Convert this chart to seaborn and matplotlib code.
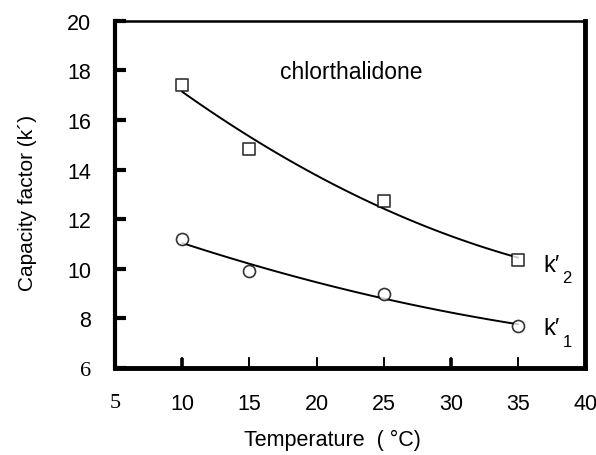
import matplotlib
matplotlib.use("Agg")
import matplotlib.pyplot as plt
import seaborn as sns
import numpy as np
import pandas as pd

temperature = [10, 15, 25, 35]
k2_values = [17.4, 14.85, 12.75, 10.35]
k1_values = [11.2, 9.9, 9.0, 7.7]
x_ticks = [5, 10, 15, 20, 25, 30, 35, 40]
y_ticks = [6, 8, 10, 12, 14, 16, 18, 20]

sns.set_theme(style="white")
plt.rcParams['font.family'] = ['Liberation Sans', 'DejaVu Sans']
plt.rcParams['xtick.bottom'] = True
plt.rcParams['ytick.left'] = True

df = pd.DataFrame({"T": temperature, "k2": k2_values, "k1": k1_values})

fig = plt.figure(figsize=(5.96, 4.56), dpi=100)
ax = fig.add_axes([0.193, 0.191, 0.789, 0.761])

for col, mk in [("k2", "s"), ("k1", "o")]:
    sns.regplot(data=df, x="T", y=col, order=2, ci=None, ax=ax, marker=mk,
                scatter_kws=dict(s=75, facecolors="white",
                                 edgecolors="black", linewidths=1.2, zorder=3),
                line_kws=dict(color="black", lw=1.4, zorder=2))

ax.set_xlim(5, 40)
ax.set_ylim(6, 20)
ax.set_xticks(x_ticks)
ax.set_yticks(y_ticks)
ax.set_xticklabels([str(v) for v in x_ticks], fontsize=15.5)
ax.set_yticklabels([str(v) for v in y_ticks], fontsize=15.5)
for lab in ax.get_yticklabels():
    if lab.get_text() == "6":
        lab.set_family("Liberation Serif")
        lab.set_fontsize(16)
for lab in ax.get_xticklabels():
    if lab.get_text() == "5":
        lab.set_family("Liberation Serif")
        lab.set_fontsize(16)

ax.tick_params(axis="y", left=True, direction="in", length=8, width=3, pad=17,
               color="black", labelcolor="black")
ax.tick_params(axis="x", bottom=True, direction="in", length=8, width=1.2, pad=18,
               color="black", labelcolor="black")

# small inward tick marks along the bottom axis (thicker at 10 and 30)
inner_ticks = x_ticks[1:-1]
tick_widths = [2.6 if v in (10, 30) else 1.1 for v in inner_ticks]
ax.vlines(inner_ticks, 0, 0.028, transform=ax.get_xaxis_transform(),
          colors="black", linewidths=tick_widths, zorder=4, clip_on=False)

ax.set_xlabel("Temperature  ( \u00b0C)", fontsize=15.5, color="black")
ax.set_ylabel("Capacity factor (k\u00b4)", fontsize=15, color="black")
ax.xaxis.set_label_coords(0.462, -0.205)
ax.yaxis.set_label_coords(-0.187, 0.478)
ax.xaxis.label.set_va("center")
ax.yaxis.label.set_va("center")

for side, lw in [("left", 3.0), ("bottom", 3.5), ("right", 3.5), ("top", 1.8)]:
    ax.spines[side].set_visible(True)
    ax.spines[side].set_color("black")
    ax.spines[side].set_linewidth(lw)

fig.text(0.589, 0.842, "chlorthalidone", ha="center", va="center",
         fontsize=16.5, color="black")
ax.text(36.9, 10.15, "k\u2032", fontsize=17, ha="left", va="center", color="black")
ax.text(38.3, 9.65, "2", fontsize=12, ha="left", va="center", color="black")
ax.text(36.9, 7.6, "k\u2032", fontsize=17, ha="left", va="center", color="black")
ax.text(38.3, 7.05, "1", fontsize=12, ha="left", va="center", color="black")

fig.savefig("out.png", dpi=100)
